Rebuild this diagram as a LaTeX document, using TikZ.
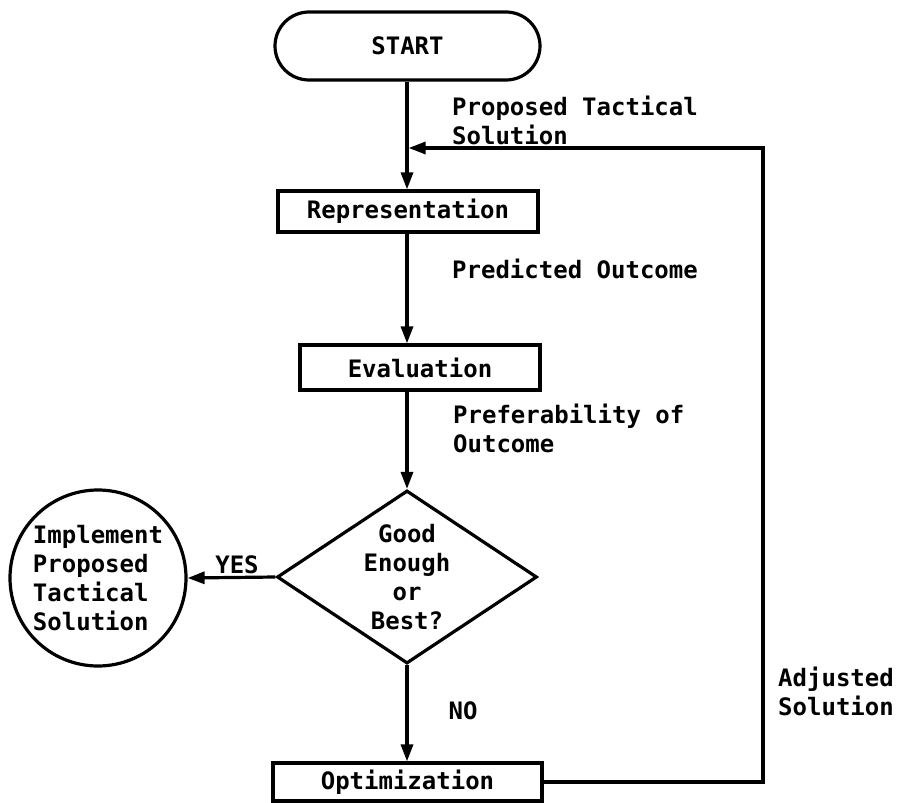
\documentclass[tikz,border=0pt]{standalone}
\usepackage{fontspec}
\setmonofont{DejaVu Sans Mono}
\usetikzlibrary{shapes.geometric,shapes.misc,arrows.meta}
\begin{document}
\begin{tikzpicture}[x=1pt,y=-1pt,
  every node/.style={font=\ttfamily\bfseries\fontsize{24}{29}\selectfont, inner sep=0pt},
  box/.style={draw, line width=3.2pt, rectangle},
  flow/.style={line width=3.2pt, -{Triangle[length=17pt,width=12pt]}},
  lbl/.style={anchor=west, align=left},
]
\useasboundingbox[fill=white] (0,0) rectangle (900,803);
\node[box, rounded rectangle, minimum width=265pt, minimum height=68pt] (start) at (407.5,46) {START};
\node[box, minimum width=260pt, minimum height=41pt] (rep) at (408,211.5) {Representation};
\node[box, minimum width=240pt, minimum height=45pt] (eval) at (420,367.5) {Evaluation};
\node[draw, line width=3.2pt, diamond, aspect=1.5, minimum width=260pt, minimum height=173pt, align=center] (dec) at (407,577) {Good\\Enough\\or\\Best?};
\node[draw, line width=3.2pt, circle, minimum size=176pt, align=left] (impl) at (98,578) {Implement\\Proposed\\Tactical\\Solution};
\node[box, minimum width=269pt, minimum height=38pt] (opt) at (407.5,782) {Optimization};

\coordinate (fb) at (407,148);
\coordinate (corner) at (763,148);

\draw[flow] (start.south -| fb) -- (rep.north -| fb);
\draw[flow] (rep.south -| fb) -- (eval.north -| fb);
\draw[flow] (eval.south -| fb) -- (dec.north);
\draw[flow] (dec.west) -- (impl.east);
\draw[flow] (dec.south) -- (opt.north -| fb);
\draw[flow, shorten >=1.6pt] (opt.east) -| (corner) -- (fb);

\node[lbl] (l1) at (452,120) {Proposed Tactical\\Solution};
\node[lbl] (l2) at (452,269) {Predicted Outcome};
\node[lbl] (l3) at (453,428) {Preferability of\\Outcome};
\node (yes) at (237,565) {YES};
\node (no) at (463,711) {NO};
\node[lbl] (l4) at (778,691) {Adjusted\\Solution};
\end{tikzpicture}
\end{document}
